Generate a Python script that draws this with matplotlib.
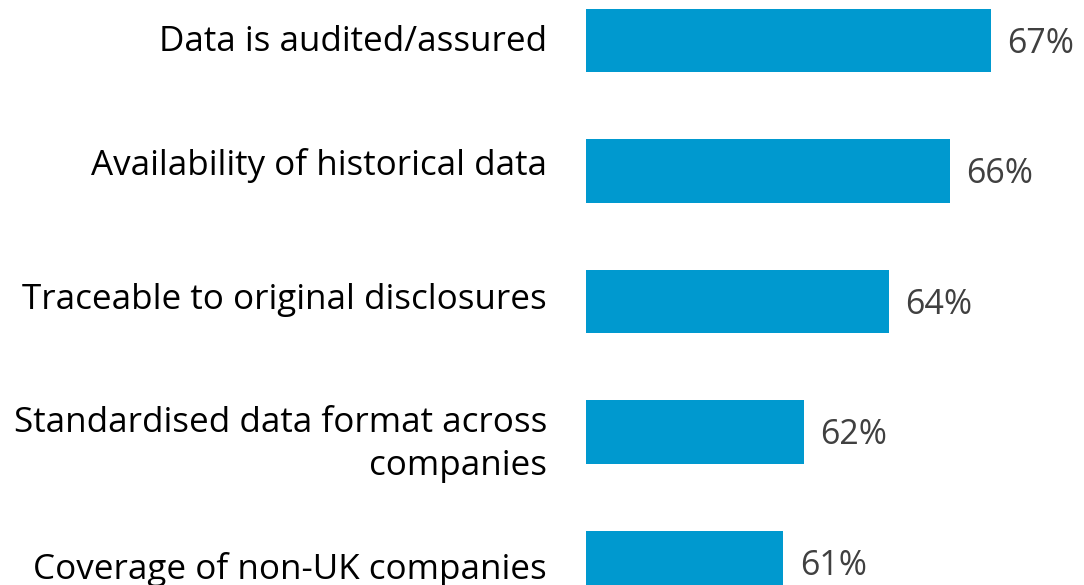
import matplotlib.pyplot as plt

categories = [
    "Data is audited/assured",
    "Availability of historical data",
    "Traceable to original disclosures",
    "Standardised data format across\ncompanies",
    "Coverage of non-UK companies",
]
values = [67.2, 66.0, 64.2, 61.7, 61.1]

plt.rcParams['font.family'] = ['Open Sans', 'DejaVu Sans']

fig = plt.figure(figsize=(10.84, 5.85), dpi=100)
ax = fig.add_axes([586 / 1084, 0, 1 - 586 / 1084, 1])

ypos = list(range(len(categories)))
ax.barh(ypos, [v - 55.3 for v in values], left=55.3, height=0.49, color='#0099CF')

for y, v in zip(ypos, values):
    ax.annotate(f"{v:.0f}%", xy=(v, y), xytext=(12, -2.5), textcoords='offset points',
                va='center', ha='left', fontsize=24.5, color='#404040')

# the labels in the original are not quite centred on the bars
label_shift = [-1, 4, 1, -9, -5]
for y, cat, dy in zip(ypos, categories, label_shift):
    ax.annotate(cat, xy=(0, y), xycoords=ax.get_yaxis_transform(),
                xytext=(-28, dy), textcoords='offset points',
                ha='right', va='center', fontsize=25.2, color='#000000',
                linespacing=1.35, annotation_clip=False)

ax.set_xlim(55.3, 55.3 + (1084 - 586) / 34)
ax.set_ylim(4 + 22.5 / 130.5, -40.5 / 130.5)
ax.set_xticks([])
ax.set_yticks([])
for s in ax.spines.values():
    s.set_visible(False)

fig.savefig('out.png', dpi=100)
